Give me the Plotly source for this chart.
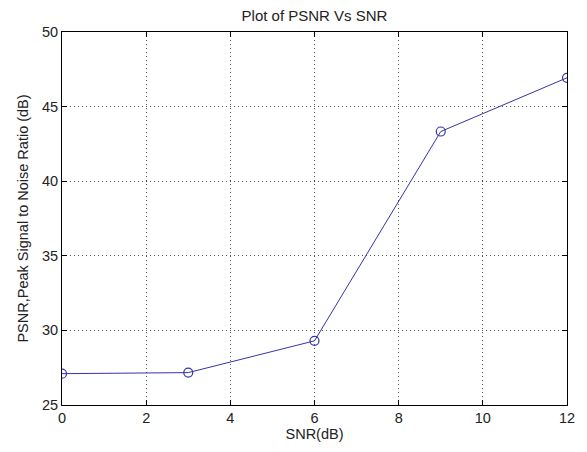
import plotly.graph_objects as go

snr = [0, 3, 6, 9, 12]
psnr = [27.1, 27.17, 29.3, 43.33, 46.93]
x_ticks = [0, 2, 4, 6, 8, 10, 12]
y_ticks = [25, 30, 35, 40, 45, 50]

FONT = "Liberation Sans, Arial, sans-serif"
TXT = "#222222"
LINE = "#3434a8"

fig = go.Figure()
fig.add_trace(go.Scatter(
    x=snr, y=psnr, mode="lines+markers",
    line=dict(color=LINE, width=1),
    marker=dict(symbol="circle-open", size=9, color=LINE, line=dict(width=1.2)),
    showlegend=False,
))

axis_common = dict(
    showline=True, linecolor="black", linewidth=1, mirror="ticks",
    ticks="inside", ticklen=5, tickcolor="black",
    showgrid=True, gridcolor="#555555", griddash="1px,3px", gridwidth=1,
    zeroline=False,
    tickfont=dict(family=FONT, size=14.5, color=TXT),
)

fig.update_layout(
    width=587, height=452,
    margin=dict(l=62, r=13, t=32, b=40),
    paper_bgcolor="white", plot_bgcolor="white",
    title=dict(text="Plot of PSNR Vs SNR", xref="paper", x=0.5, xanchor="center",
               y=1 - 16/452, yanchor="middle",
               font=dict(family=FONT, size=15, color=TXT)),
    xaxis=dict(range=[0, 12], tickvals=x_ticks, ticktext=[str(v) for v in x_ticks],
               title=dict(text="SNR(dB)", standoff=3, font=dict(family=FONT, size=14.5, color=TXT)),
               **axis_common),
    yaxis=dict(range=[25, 50], tickvals=y_ticks, ticktext=[str(v) for v in y_ticks],
               title=dict(text="PSNR,Peak Signal to Noise Ratio (dB)", standoff=9,
                          font=dict(family=FONT, size=14.5, color=TXT)),
               **axis_common),
)

fig.write_html("out.html", config={"displayModeBar": False},
               post_script="document.body.style.margin='0';document.body.style.overflow='hidden';")
